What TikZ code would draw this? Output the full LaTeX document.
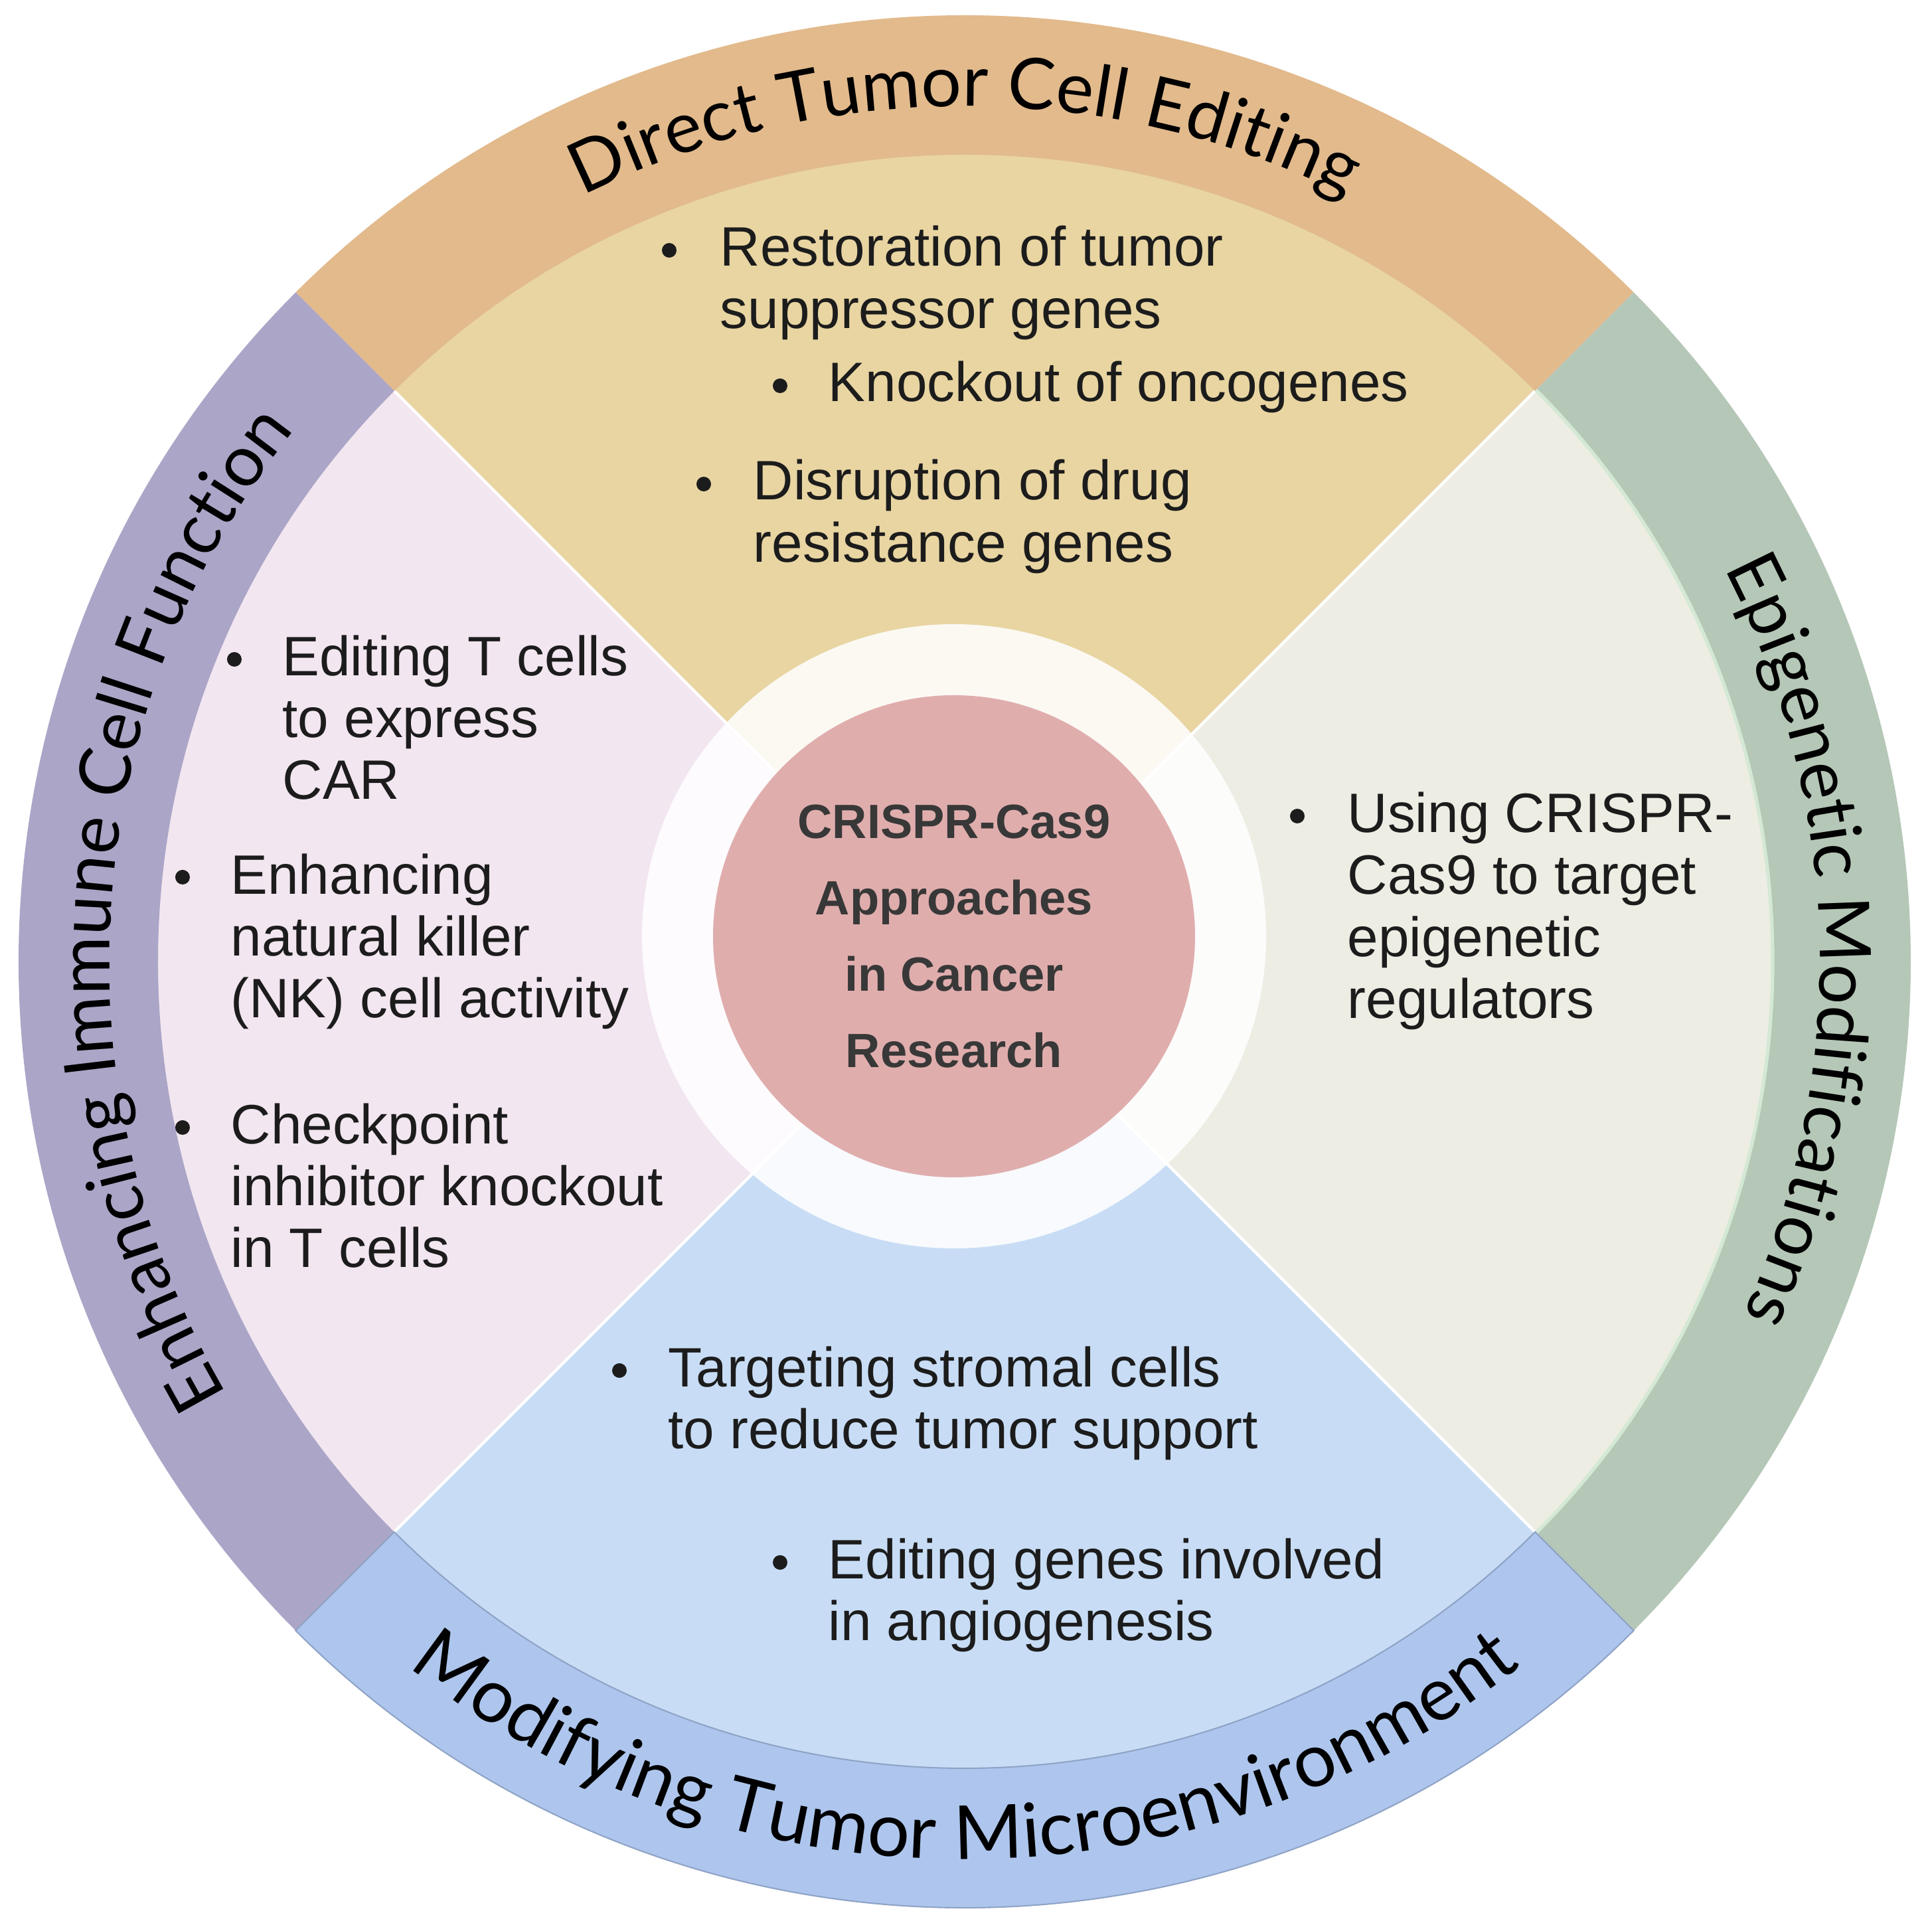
\documentclass[tikz,border=0pt]{standalone}
\usepackage{fontspec}
\setmainfont{Liberation Sans}
\newfontfamily\titlefont{Lato}
\usetikzlibrary{decorations.text}

\definecolor{bandtop}{HTML}{E2BA8C}
\definecolor{bandleft}{HTML}{ABA5C7}
\definecolor{bandright}{HTML}{B5C7B7}
\definecolor{bandbottom}{HTML}{AEC6ED}
\definecolor{bandedge}{HTML}{8FA3C6}
\definecolor{greenedge}{HTML}{D4E8D6}
\definecolor{sectop}{HTML}{E8D5A2}
\definecolor{secleft}{HTML}{F2E6F0}
\definecolor{secright}{HTML}{EDEDE4}
\definecolor{secbottom}{HTML}{C8DDF5}
\definecolor{corepink}{HTML}{E0ADAD}
\definecolor{coretext}{HTML}{383838}
\definecolor{itemtext}{HTML}{1C1C1C}

\tikzset{
  sector/.style={draw=white, line width=1.2pt},
  title/.style={decorate, decoration={text along path, text align=center,
      text={|\titlefont\fontsize{30.5}{32}\selectfont|#1}}},
  bigtitle/.style={decorate, decoration={text along path, text align=center,
      text={|\titlefont\fontsize{32}{34}\selectfont|#1}}},
  item/.style={anchor=base west, align=left, inner sep=0pt, text=itemtext,
      font=\fontsize{23.8}{26.6}\selectfont},
  dot/.style={circle, fill=itemtext, inner sep=0pt, minimum size=0.22cm},
  core/.style={circle, fill=corepink, minimum size=7.26cm, inner sep=0pt,
      align=center, text=coretext, font=\bfseries\fontsize{20.6}{32.7}\selectfont}
}

\begin{document}
\begin{tikzpicture}
  \useasboundingbox (-14.53,-14.54) rectangle (14.57,14.48);
  % Quarter sectors
  \filldraw[sector, fill=sectop] (0,0) -- (45:12.2) arc[start angle=45, end angle=135, radius=12.2] -- cycle;
  \filldraw[sector, fill=secleft] (0,0) -- (135:12.2) arc[start angle=135, end angle=225, radius=12.2] -- cycle;
  \filldraw[sector, fill=secbottom] (0,0) -- (225:12.2) arc[start angle=225, end angle=315, radius=12.2] -- cycle;
  \filldraw[sector, fill=secright] (0,0) -- (-45:12.2) arc[start angle=-45, end angle=45, radius=12.2] -- cycle;
  % Outer bands
  \fill[bandtop] (45:12.15) arc[start angle=45, end angle=135, radius=12.15]
    -- (135:14.25) arc[start angle=135, end angle=45, radius=14.25] -- cycle;
  \fill[bandleft] (135:12.15) arc[start angle=135, end angle=225, radius=12.15]
    -- (225:14.25) arc[start angle=225, end angle=135, radius=14.25] -- cycle;
  \fill[bandright] (-45:12.15) arc[start angle=-45, end angle=45, radius=12.15]
    -- (45:14.25) arc[start angle=45, end angle=-45, radius=14.25] -- cycle;
  \draw[greenedge, line width=1.5pt] (-45:12.17) arc[start angle=-45, end angle=45, radius=12.17];
  \filldraw[fill=bandbottom, draw=bandedge, line width=0.6pt] (225:12.15) arc[start angle=225, end angle=315, radius=12.15]
    -- (315:14.25) arc[start angle=315, end angle=225, radius=14.25] -- cycle;
  % Band titles
  \path[title={Direct Tumor Cell Editing}] (135:12.88) arc[start angle=135, end angle=45, radius=12.88];
  \path[title={Enhancing Immune Cell Function}] (216:12.88) arc[start angle=216, end angle=136, radius=12.88];
  \path[title={Epigenetic Modifications}] (46.5:12.88) arc[start angle=46.5, end angle=-43.5, radius=12.88];
  \path[bigtitle={Modifying Tumor Microenvironment}] (225:13.52) arc[start angle=225, end angle=315, radius=13.52];
  % Centre disc
  \coordinate (hub) at (-0.16,0.38);
  \fill[white, fill opacity=0.88] (hub) circle (4.70);
  \node[core] (core) at (hub) {CRISPR-Cas9\\Approaches\\in Cancer\\Research};
  % Direct tumor cell editing
  \node[dot] (restoredot) at (-4.45,10.71) {};
  \node[item] (restore) at (-3.69,9.535) {Restoration of tumor\\suppressor genes};
  \node[dot] (knockdot) at (-2.78,8.67) {};
  \node[item] (knock) at (-2.06,8.43) {Knockout of oncogenes};
  \node[dot] (drugdot) at (-3.93,7.19) {};
  \node[item] (drug) at (-3.19,6.015) {Disruption of drug\\resistance genes};
  % Immune cell function
  \node[dot] (cardot) at (-11.00,4.55) {};
  \node[item] (car) at (-10.28,2.44) {Editing T cells\\to express\\CAR};
  \node[dot] (nkdot) at (-11.78,1.27) {};
  \node[item] (nk) at (-11.06,-0.85) {Enhancing\\natural killer\\(NK) cell activity};
  \node[dot] (checkdot) at (-11.78,-2.50) {};
  \node[item] (check) at (-11.06,-4.61) {Checkpoint\\inhibitor knockout\\in T cells};
  % Epigenetic modifications
  \node[dot] (epidot) at (5.01,2.19) {};
  \node[item] (epi) at (5.76,-0.855) {Using CRISPR-\\Cas9 to target\\epigenetic\\regulators};
  % Tumor microenvironment
  \node[dot] (stromadot) at (-5.20,-6.16) {};
  \node[item] (stroma) at (-4.47,-7.335) {Targeting stromal cells\\to reduce tumor support};
  \node[dot] (angiodot) at (-2.78,-9.05) {};
  \node[item] (angio) at (-2.06,-10.225) {Editing genes involved\\in angiogenesis};
\end{tikzpicture}
\end{document}
